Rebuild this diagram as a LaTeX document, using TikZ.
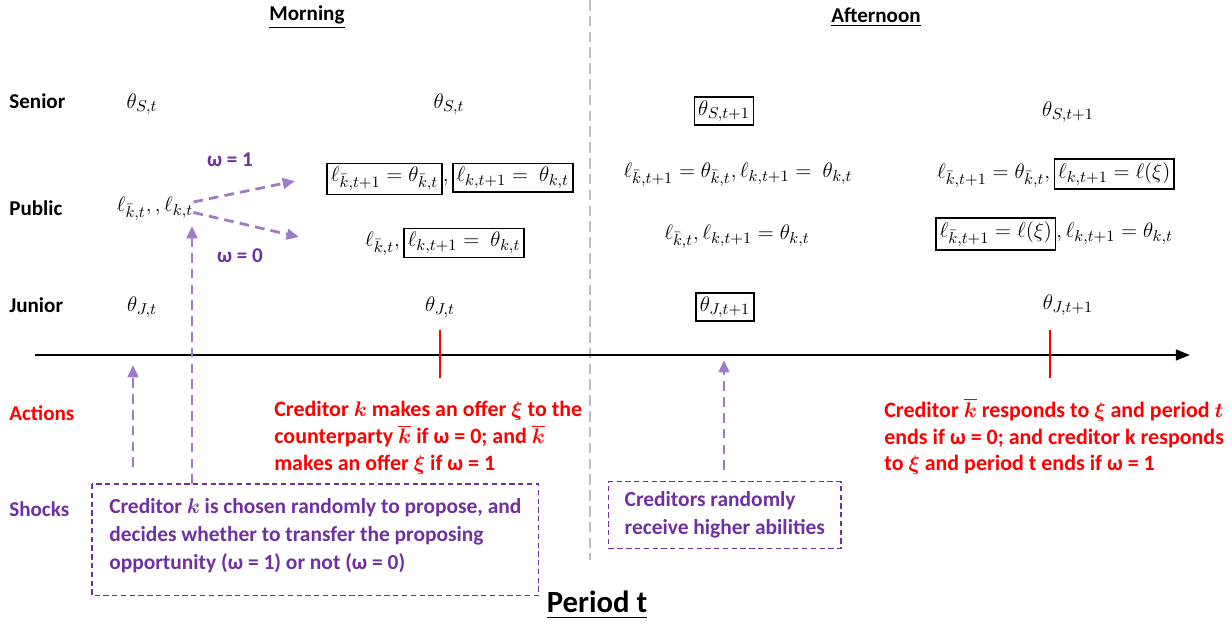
\documentclass[tikz,border=0pt]{standalone}
\usepackage{amsmath}
\usepackage{fontspec}
\setmainfont{Carlito}
\usetikzlibrary{arrows.meta}
\definecolor{actred}{HTML}{FF0000}
\definecolor{shockpurple}{HTML}{7030A0}
\definecolor{arrowpurple}{HTML}{A07CC8}
\definecolor{divgray}{HTML}{BFBFBF}
\setlength{\fboxrule}{1pt}
\setlength{\fboxsep}{1.6pt}
\tikzset{
  heading/.style={font=\bfseries\fontsize{12}{14}\selectfont},
  rowlabel/.style={anchor=base west, inner sep=0pt, font=\bfseries\fontsize{12}{14}\selectfont},
  mathlbl/.style={inner sep=0pt, font=\fontsize{13.2}{16}\selectfont},
  actiontext/.style={anchor=north west, inner sep=0pt, align=left, text=actred,
    font=\bfseries\fontsize{12.5}{15.3}\selectfont},
  boxline/.style={draw=shockpurple, thick, dash pattern=on 3pt off 2pt},
  shockbox/.style={text=shockpurple, align=left, anchor=north west, inner xsep=0.32cm,
    inner ysep=0pt, font=\bfseries\fontsize{12.2}{16}\selectfont},
  shockarrow/.style={arrowpurple, line width=1.6pt, dash pattern=on 5.5pt off 3.5pt,
    -{Triangle[length=7pt, width=6pt]}},
  omega/.style={text=shockpurple, font=\bfseries\fontsize{12}{14}\selectfont},
}
\begin{document}
\begin{tikzpicture}[x=0.02cm, y=-0.02cm]
    \useasboundingbox (0,0) rectangle (1232,624);
    % headings and divider
    \node[heading] (morning) at (307,17) {\underline{Morning}};
    \node[heading] (afternoon) at (876,17) {\underline{Afternoon}};
    \draw[divgray, line width=1.6pt, dash pattern=on 6pt off 3pt] (590,0) -- (590,560);
    % rows
    \node[rowlabel] (senior) at (9,109) {Senior};
    \node[rowlabel] (public) at (9,216) {Public};
    \node[rowlabel] (junior) at (9,313) {Junior};
    \node[rowlabel, text=actred] (actions) at (9,421) {Actions};
    \node[rowlabel, text=shockpurple] (shocks) at (9,517) {Shocks};
    % senior
    \node[mathlbl] (sen0) at (142,104) {$\theta_{S,t}$};
    \node[mathlbl] (sen1) at (449,104) {$\theta_{S,t}$};
    \node[mathlbl] (sen2) at (724,111) {$\fbox{$\theta_{S,t+1}$}$};
    \node[mathlbl] (sen3) at (1068,112) {$\theta_{S,t+1}$};
    % public
    \node[mathlbl] (pub0) at (155,209) {$\ell_{\bar{k},t},,\ell_{k,t}$};
    \node[mathlbl] (pub1) at (450,179) {$\fbox{$\ell_{\bar{k},t+1}=\theta_{\bar{k},t}$},\fbox{$\ell_{k,t+1}=\ \theta_{k,t}$}$};
    \node[mathlbl] (pub2) at (445,243) {$\ell_{\bar{k},t},\fbox{$\ell_{k,t+1}=\ \theta_{k,t}$}$};
    \node[mathlbl] (pub3) at (738,175) {$\ell_{\bar{k},t+1}=\theta_{\bar{k},t},\ell_{k,t+1}=\ \theta_{k,t}$};
    \node[mathlbl] (pub4) at (737,237) {$\ell_{\bar{k},t},\ell_{k,t+1}=\theta_{k,t}$};
    \node[mathlbl] (pub5) at (1056,174) {$\ell_{\bar{k},t+1}=\theta_{\bar{k},t},\fbox{$\ell_{k,t+1}=\ell(\xi)$}$};
    \node[mathlbl] (pub6) at (1054,234) {$\fbox{$\ell_{\bar{k},t+1}=\ell(\xi)$},\ell_{k,t+1}=\theta_{k,t}$};
    % junior
    \node[mathlbl] (jun0) at (142,307) {$\theta_{J,t}$};
    \node[mathlbl] (jun1) at (440,307) {$\theta_{J,t}$};
    \node[mathlbl] (jun2) at (725,307) {$\fbox{$\theta_{J,t+1}$}$};
    \node[mathlbl] (jun3) at (1068,305) {$\theta_{J,t+1}$};
    % time line
    \coordinate (tstart) at (35,355);
    \coordinate (tend) at (1190,355);
    \draw[line width=1.4pt, -{Triangle[length=8pt, width=6pt]}] (tstart) -- (tend);
    \draw[actred, line width=1.4pt] (440,330) -- (440,378);
    \draw[actred, line width=1.4pt] (1050,330) -- (1050,378);
    % proposer choice
    \node[omega] (w1) at (230,160) {ω = 1};
    \node[omega] (w0) at (240,256) {ω = 0};
    \coordinate (up) at (295,181);
    \coordinate (down) at (299,237);
    \draw[shockarrow] ([yshift=4pt]pub0.east) -- (up);
    \draw[shockarrow] ([yshift=-2pt]pub0.east) -- (down);
    % actions
    \node[actiontext] (act1) at (274,401) {Creditor $\boldsymbol{k}$ makes an offer $\boldsymbol{\xi}$ to the\\
      counterparty $\overline{\boldsymbol{k}}$ if ω = 0; and $\overline{\boldsymbol{k}}$\\
      makes an offer $\boldsymbol{\xi}$ if ω = 1};
    \node[actiontext] (act2) at (884,398) {Creditor $\overline{\boldsymbol{k}}$ responds to $\boldsymbol{\xi}$ and period $\boldsymbol{t}$\\
      ends if ω = 0; and creditor k responds\\
      to $\boldsymbol{\xi}$ and period t ends if ω = 1};
    % shocks
    \node[shockbox, minimum width=8.92cm, minimum height=2.06cm] (box1) at (92,484)
      {Creditor $\boldsymbol{k}$ is chosen randomly to propose, and\\
       decides whether to transfer the proposing\\
       opportunity (ω = 1) or not (ω = 0)};
    \draw[boxline] (box1.north west) rectangle ([yshift=-0.16cm]box1.south east);
    \node[shockbox, boxline, minimum width=4.64cm, minimum height=1.34cm] (box2) at (608,481)
      {Creditors randomly\\receive higher abilities};
    \coordinate (s1) at (133,467);
    \coordinate (t1) at (133,365);
    \coordinate (s2) at (192,484);
    \coordinate (t2) at (192,226);
    \coordinate (s3) at (724,470);
    \coordinate (t3) at (724,360);
    \draw[shockarrow] (s1) -- (t1);
    \draw[shockarrow] (s2) -- (t2);
    \draw[shockarrow] (s3) -- (t3);
    % title
    \node[font=\bfseries\fontsize{17.5}{20}\selectfont] (period) at (597,605) {\underline{Period t}};
\end{tikzpicture}
\end{document}
